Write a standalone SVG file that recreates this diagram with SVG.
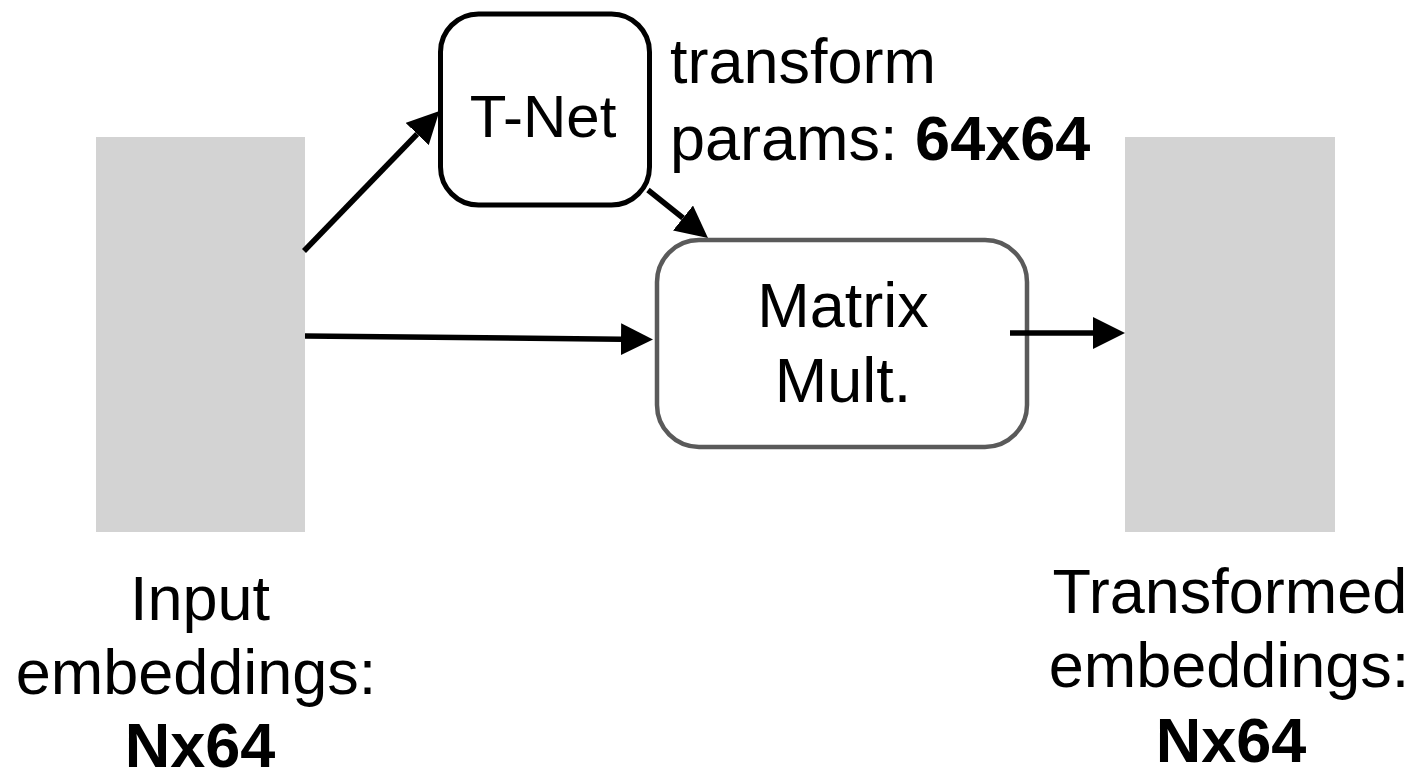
<svg xmlns="http://www.w3.org/2000/svg" width="1420" height="773" viewBox="0 0 1420 773">
<style>
text{font-family:"Liberation Sans",Arial,sans-serif;fill:#000;font-size:63px}
.c{text-anchor:middle}
.b{font-weight:bold}
.emb{fill:#d3d3d3}
.conn line{stroke:#000;stroke-width:5.5}
</style>
<defs>
<marker id="ah" viewBox="0 0 10 10" refX="0" refY="5" markerWidth="32" markerHeight="32" markerUnits="userSpaceOnUse" orient="auto">
<path d="M0,0 L10,5 L0,10 z" fill="#000"/>
</marker>
</defs>
<rect width="1420" height="773" fill="#fff"/>
<g id="input">
<rect class="emb" x="96" y="137" width="209" height="395"/>
<text class="c" x="200" y="620">Input</text>
<text class="c" x="196" y="694">embeddings:</text>
<text class="c b" x="200" y="767">Nx64</text>
</g>
<g id="output">
<rect class="emb" x="1125" y="137" width="210" height="395"/>
<text class="c" x="1230" y="613">Transformed</text>
<text class="c" x="1229" y="687">embeddings:</text>
<text class="c b" x="1231" y="762">Nx64</text>
</g>
<g id="tnet">
<rect x="440.5" y="14" width="209" height="191" rx="38" fill="#fff" stroke="#000" stroke-width="5"/>
<text class="c" x="543" y="137" style="font-size:60px">T-Net</text>
</g>
<g id="params">
<text x="670" y="83">transform</text>
<text x="670" y="160">params: <tspan class="b">64x64</tspan></text>
</g>
<g id="matmul">
<rect x="657" y="240" width="370" height="207" rx="42" fill="#fff" stroke="#5a5a5a" stroke-width="4.5"/>
<text class="c" x="843" y="327">Matrix</text>
<text class="c" x="843" y="402">Mult.</text>
</g>
<g class="conn" id="connectors">
<line x1="304" y1="251" x2="417.2" y2="134" marker-end="url(#ah)"/>
<line x1="648" y1="190" x2="683" y2="218" marker-end="url(#ah)"/>
<line x1="305" y1="336" x2="621" y2="339.2" marker-end="url(#ah)"/>
<line x1="1010" y1="333" x2="1093" y2="333" marker-end="url(#ah)"/>
</g>
</svg>
